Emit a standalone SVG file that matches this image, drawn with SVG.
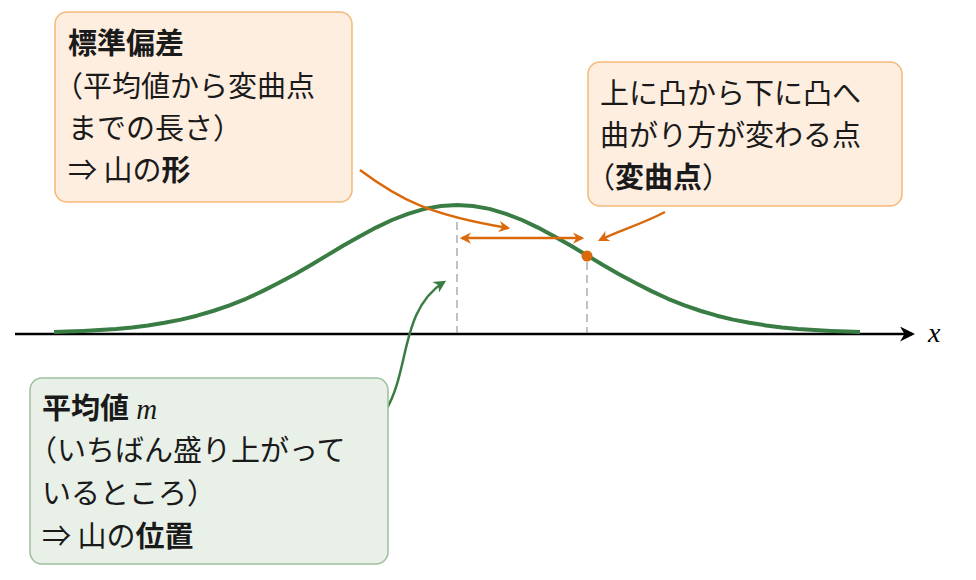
<svg xmlns="http://www.w3.org/2000/svg" width="976" height="580" viewBox="0 0 976 580">
<style>
.t{font-family:"Noto Sans CJK JP","Noto Sans",sans-serif;font-size:29px;fill:#1a1a1a}
.b{font-weight:bold}
.ob{fill:#fdeee0;stroke:#f6b878;stroke-width:1.5}
.gb{fill:#e8f0e8;stroke:#9ebf9e;stroke-width:1.5}
.oa{fill:none;stroke:#d9690b;stroke-width:2.5}
</style>
<defs>
<marker id="ao" viewBox="0 0 10 10" refX="8" refY="5" markerWidth="4.5" markerHeight="4.5" orient="auto-start-reverse"><path d="M0,0 L10,5 L0,10 L3,5 z" fill="#d9690b"/></marker>
<marker id="ag" viewBox="0 0 10 10" refX="8" refY="5" markerWidth="5" markerHeight="5" orient="auto"><path d="M0,0 L10,5 L0,10 L3,5 z" fill="#3a7d44"/></marker>
<marker id="ak" viewBox="0 0 10 10" refX="8" refY="5" markerWidth="6" markerHeight="6" orient="auto"><path d="M0,0 L10,5 L0,10 L3,5 z" fill="#000"/></marker>
</defs>
<g id="axis">
<line x1="15" y1="334" x2="912" y2="334" stroke="#000" stroke-width="2.5" marker-end="url(#ak)"/>
<text x="928" y="342" font-family="Liberation Serif,serif" font-style="italic" font-size="28">x</text>
</g>
<g id="guides" stroke="#999" stroke-width="1.2" stroke-dasharray="8,5">
<line x1="457" y1="222" x2="457" y2="333"/>
<line x1="587" y1="262" x2="587" y2="333"/>
</g>
<g id="curve">
<polyline fill="none" stroke="#3a7d44" stroke-width="4" stroke-linejoin="round" points="54,332 67,331.6 83,331 99.5,330.1 116,329 132,327.4 148,325.4 164.5,322.8 181,319.6 197,315.7 213,311 229.5,305.3 246,298.8 262,291.4 278,283.2 294.5,274.4 311,265 327,255.4 343,245.8 359.5,236.4 376,227.6 392,220 408,213.8 424.5,208.9 441,206 457,205 473,206 489.5,208.9 506,213.8 522,220 538,227.6 554.5,236.4 571,245.8 587,255.4 603,265 619.5,274.4 636,283.2 652,291.4 668,298.8 684.5,305.3 701,311 717,315.7 733,319.6 749.5,322.8 766,325.4 782,327.4 798,329 814.5,330.1 831,331 847,331.6 860,332"/>
</g>
<g id="connectors">
<line x1="462" y1="238" x2="582" y2="238" class="oa" stroke-width="3.5" marker-start="url(#ao)" marker-end="url(#ao)"/>
<circle cx="587" cy="256" r="5.5" fill="#d9690b"/>
<path class="oa" d="M360,170 C400,200 430,215 508,228" marker-end="url(#ao)"/>
<path class="oa" d="M665,212 C640,225 620,230 600,240" marker-end="url(#ao)"/>
<path fill="none" stroke="#3a7d44" stroke-width="2.5" d="M386,410 C410,370 400,310 444,282" marker-end="url(#ag)"/>
</g>
<g id="box-sd">
<rect class="ob" x="55" y="12" width="297" height="190" rx="12"/>
<text class="t b" x="68" y="54">標準偏差</text>
<text class="t" x="54" y="97">（平均値から変曲点</text>
<text class="t" x="68" y="139">までの長さ）</text>
<text class="t" x="68" y="181">⇒ 山の<tspan class="b">形</tspan></text>
</g>
<g id="box-inflection">
<rect class="ob" x="588" y="62" width="314" height="144" rx="12"/>
<text class="t" x="600" y="104">上に凸から下に凸へ</text>
<text class="t" x="600" y="146">曲がり方が変わる点</text>
<text class="t" x="586" y="188">（<tspan class="b">変曲点</tspan>）</text>
</g>
<g id="box-mean">
<rect class="gb" x="30" y="378" width="358" height="186" rx="12"/>
<text class="t" x="42" y="419"><tspan class="b">平均値</tspan><tspan font-family="Liberation Serif,serif" font-style="italic"> m</tspan></text>
<text class="t" x="28" y="461">（いちばん盛り上がって</text>
<text class="t" x="42" y="504">いるところ）</text>
<text class="t" x="42" y="547">⇒ 山の<tspan class="b">位置</tspan></text>
</g>
</svg>
